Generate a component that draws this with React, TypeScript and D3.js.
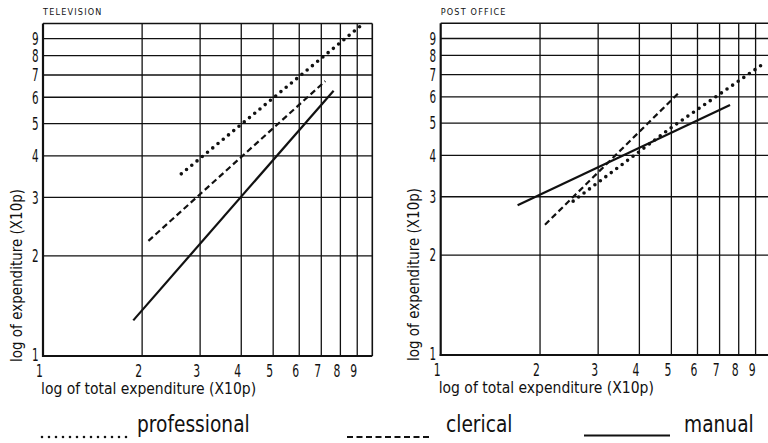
import React from "react";
import * as d3 from "d3";

const xTicks = [1, 2, 3, 4, 5, 6, 7, 8, 9];
const yTicks = [1, 2, 3, 4, 5, 6, 7, 8, 9];
const gridValues = [2, 3, 4, 5, 6, 7, 8, 9];

const panelTitles = ["TELEVISION", "POST OFFICE"];
const seriesNames = ["professional", "clerical", "manual"];

// [total expenditure, expenditure] pairs (x10p)
const tvProfessional: [number, number][] = [[2.63, 3.53], [9.4, 10]];
const tvClerical: [number, number][] = [[2.09, 2.22], [7.2, 6.71]];
const tvManual: [number, number][] = [[1.88, 1.28], [7.63, 6.28]];

const poProfessional: [number, number][] = [[2.52, 2.91], [5, 4.85], [9.6, 7.6]];
const poClerical: [number, number][] = [[2.07, 2.47], [5.31, 6.22]];
const poManual: [number, number][] = [[1.71, 2.83], [7.53, 5.67]];

const FONT = "'DejaVu Sans Condensed', 'Liberation Sans Narrow', 'DejaVu Sans', sans-serif";

const styles = [
  { dash: "0 6.8", width: 3.6, cap: "round" as const },
  { dash: "6 3.5", width: 2.2, cap: "butt" as const },
  { dash: "", width: 2.2, cap: "butt" as const },
];

type PanelProps = {
  x0: number; x1: number; yTop: number; yBottom: number;
  title: string; series: [number, number][][];
};

function Panel({ x0, x1, yTop, yBottom, title, series }: PanelProps) {
  const x = d3.scaleLog().domain([1, 10]).range([x0, x1]);
  const y = d3.scaleLog().domain([1, 10]).range([yBottom, yTop]);
  const line = d3.line<[number, number]>().x(d => x(d[0])).y(d => y(d[1]));
  return (
    <g>
      <text x={x0} y={15} fontSize={9} letterSpacing={1.2} fontFamily={FONT} fill="#111">{title}</text>
      {gridValues.map(v => (
        <line key={"h" + v} x1={x0} x2={x1} y1={y(v)} y2={y(v)} stroke="#111" strokeWidth={1.3} />
      ))}
      {gridValues.map(v => (
        <line key={"v" + v} x1={x(v)} x2={x(v)} y1={yTop} y2={yBottom} stroke="#111" strokeWidth={1.3} />
      ))}
      <line x1={x0} x2={x1} y1={yTop} y2={yTop} stroke="#111" strokeWidth={1.6} />
      <line x1={x1} x2={x1} y1={yTop} y2={yBottom} stroke="#111" strokeWidth={1.6} />
      <line x1={x0} x2={x0} y1={yTop} y2={yBottom + 1} stroke="#111" strokeWidth={2.2} />
      <line x1={x0 - 1} x2={x1} y1={yBottom} y2={yBottom} stroke="#111" strokeWidth={2.2} />
      {yTicks.map(v => (
        <text key={"yt" + v} transform={`translate(${x0 - 4.5},${y(v) + (v === 1 ? -1.5 : 0)}) scale(0.66,1)`}
          dy="0.36em" textAnchor="end" fontSize={17.5} fontFamily={FONT} fill="#111">{v}</text>
      ))}
      {xTicks.map(v => (
        <text key={"xt" + v} transform={`translate(${x(v) - 3.5},${yBottom + 21}) scale(0.65,1)`}
          textAnchor="middle" fontSize={18.5} fontFamily={FONT} fill="#111">{v}</text>
      ))}
      <text x={x0 - 2} y={yBottom + 38} fontSize={15.5} fontFamily={FONT} fill="#111">log of total expenditure (X10p)</text>
      <text transform={`translate(${x0 - 21.5},${yBottom + 6}) rotate(-90)`} fontSize={15} fontFamily={FONT} fill="#111">log of expenditure (X10p)</text>
      {series.map((s, i) => (
        <path key={"s" + i} d={line(s) || ""} fill="none" stroke="#111" strokeWidth={styles[i].width}
          strokeDasharray={styles[i].dash || undefined} strokeLinecap={styles[i].cap} />
      ))}
    </g>
  );
}

export default function App() {
  const legend = [
    { lx0: 42, lx1: 128, ly: 437, tx: 137 },
    { lx0: 347, lx1: 431, ly: 437, tx: 446 },
    { lx0: 584, lx1: 670, ly: 435.5, tx: 684 },
  ];
  return (
    <svg width={768} height={443} style={{ position: "absolute", left: 0, top: 0, background: "#fff" }}>
      <rect width={768} height={443} fill="#fff" />
      <Panel x0={43} x1={372.3} yTop={23.5} yBottom={356} title={panelTitles[0]}
        series={[tvProfessional, tvClerical, tvManual]} />
      <Panel x0={440.7} x1={770.7} yTop={23.3} yBottom={355} title={panelTitles[1]}
        series={[poProfessional, poClerical, poManual]} />
      {legend.map((l, i) => (
        <g key={"lg" + i}>
          <line x1={l.lx0} x2={l.lx1} y1={l.ly} y2={l.ly} stroke="#111" strokeWidth={i === 0 ? 2.6 : 1.8}
            strokeDasharray={i === 0 ? "0 7" : i === 1 ? "6 3.5" : undefined} strokeLinecap={i === 0 ? "round" : "butt"} />
          <text transform={`translate(${l.tx},432) scale(0.92,1)`} fontSize={22.5} fontFamily={FONT} fill="#111">{seriesNames[i]}</text>
        </g>
      ))}
    </svg>
  );
}
